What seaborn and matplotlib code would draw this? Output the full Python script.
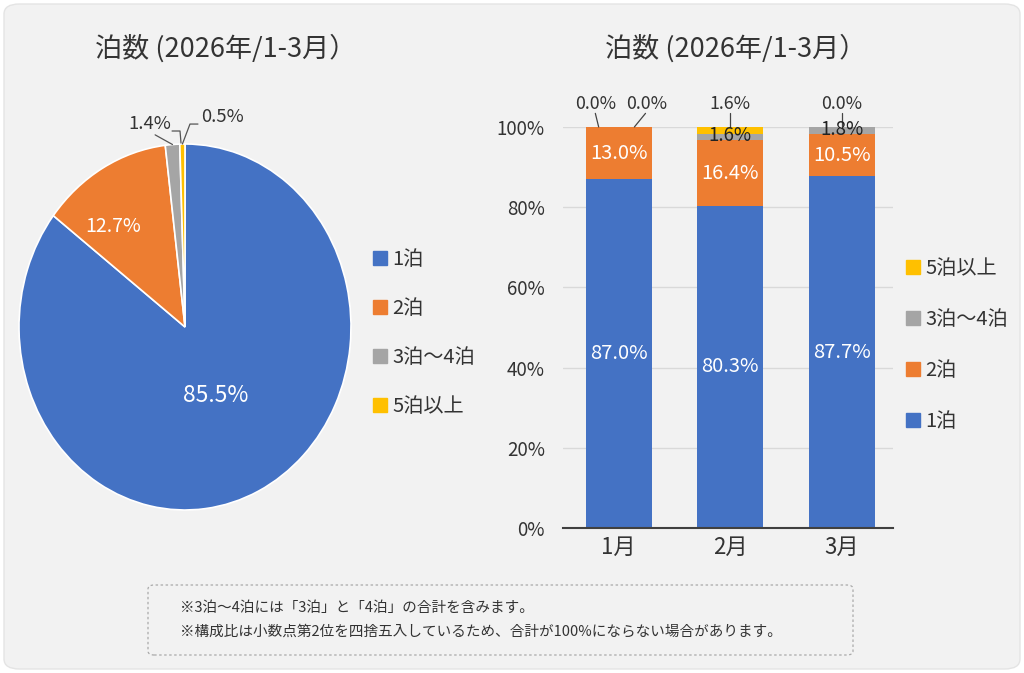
import numpy as np
import pandas as pd
import seaborn as sns
import matplotlib.pyplot as plt
from matplotlib.patches import FancyBboxPatch
from matplotlib.lines import Line2D

sns.set_theme(style="white")
plt.rcParams["font.family"] = ["Noto Sans CJK JP", "DejaVu Sans"]

# -------------------------------
# DATA
# -------------------------------
categories = ["1泊", "2泊", "3泊～4泊", "5泊以上"]
pie_share = [85.5, 12.7, 1.4, 0.5]
months = ["1月", "2月", "3月"]
share_1 = [87.0, 80.3, 87.7]
share_2 = [13.0, 16.4, 10.5]
share_3_4 = [0.0, 1.6, 1.8]
share_5 = [0.0, 1.6, 0.0]
title = "泊数 (2026年/1-3月）"
notes = ["※3泊～4泊には「3泊」と「4泊」の合計を含みます。",
         "※構成比は小数点第2位を四捨五入しているため、合計が100%にならない場合があります。"]

colors = ["#4472C4", "#ED7D31", "#A5A5A5", "#FFC000"]
text_c = "#333333"

W, H = 1024, 673
fig = plt.figure(figsize=(W / 100, H / 100), dpi=100)
fig.patch.set_facecolor("white")
fig.patches.append(FancyBboxPatch((4 / W, 4 / H), 1 - 8 / W, 1 - 8 / H,
                                  boxstyle="round,pad=0,rounding_size=0.015",
                                  transform=fig.transFigure, facecolor="#f2f2f2",
                                  edgecolor="#e4e4e4", lw=1, zorder=-10))

# ======================================================
# PIE (slightly stretched vertically, like the reference)
# ======================================================
ax1 = fig.add_axes([19 / W, 163 / H, 332 / W, 366 / H])
ax1.set_facecolor("none")
wedges, _ = ax1.pie(pie_share, colors=colors, startangle=90, counterclock=False,
                    wedgeprops=dict(edgecolor="white", linewidth=1.2))
ax1.set_xlim(-1, 1)
ax1.set_ylim(-1, 1)
ax1.set_aspect("auto")

def mid_xy(w, r):
    a = np.deg2rad((w.theta1 + w.theta2) / 2)
    return r * np.cos(a), r * np.sin(a)

x, y = mid_xy(wedges[0], 0.42)
ax1.text(x, y, f"{pie_share[0]}%", color="white", fontsize=16.5, ha="center", va="center")
ax1.text(-0.43, 0.55, f"{pie_share[1]}%", color="white", fontsize=14, ha="center", va="center")

# small slices with leader lines
lc = dict(color="#555555", lw=0.9, clip_on=False)
gx, gy = mid_xy(wedges[2], 1.0)
ax1.text(-0.21, 1.11, f"{pie_share[2]}%", color=text_c, fontsize=13.3, ha="center", va="center")
ax1.add_line(Line2D([-0.18, gx], [1.05, gy], **lc))
yx, yy = mid_xy(wedges[3], 1.0)
ax1.text(0.10, 1.145, f"{pie_share[3]}%", color=text_c, fontsize=13.3, ha="left", va="center")
ax1.add_line(Line2D([0.078, 0.03, yx], [1.109, 1.109, yy], **lc))
ax1.add_line(Line2D([-0.078, -0.03, -0.024], [1.071, 1.071, 1.005], **lc))

fig.text(226 / W, 1 - 48 / H, title, fontsize=19.5, color=text_c, ha="center", va="center")

h1 = [Line2D([], [], marker="s", ls="", color=c, markersize=9.5) for c in colors]
fig.legend(h1, categories, loc="center left", bbox_to_anchor=(355 / W, 1 - 333 / H),
           frameon=False, fontsize=14.5, labelspacing=1.39, handlelength=0.7,
           handletextpad=0.25, labelcolor=text_c)

# ======================================================
# STACKED BAR
# ======================================================
ax2 = fig.add_axes([563 / W, 145 / H, 330 / W, 401 / H])
ax2.set_facecolor("none")
df = pd.DataFrame({"month": months, "s1": share_1, "s2": share_2,
                   "s3": share_3_4, "s5": share_5})
df["c1"] = df["s1"]
df["c2"] = df["c1"] + df["s2"]
df["c3"] = df["c2"] + df["s3"]
df["c5"] = df["c3"] + df["s5"]

for col, c in zip(["c5", "c3", "c2", "c1"], colors[::-1]):
    sns.barplot(data=df, x="month", y=col, color=c, width=0.59, ax=ax2,
                saturation=1, edgecolor="none")

ax2.set_ylim(0, 100)
ax2.set_xlim(-0.5, 2.46)
ax2.set_yticks(range(0, 101, 20))
ax2.set_yticklabels([f"{v}%" for v in range(0, 101, 20)], fontsize=13.5, color=text_c)
ax2.tick_params(axis="x", labelsize=16, colors=text_c, pad=6, length=0)
ax2.tick_params(axis="y", length=0, pad=13)
ax2.set_xlabel("")
ax2.set_ylabel("")
ax2.yaxis.grid(True, color="#d9d9d9", lw=1)
ax2.set_axisbelow(True)
for s in ["left", "right", "top"]:
    ax2.spines[s].set_visible(False)
ax2.spines["bottom"].set_color("#404040")
ax2.spines["bottom"].set_linewidth(1.5)

for i in range(len(months)):
    ax2.text(i, df["s1"][i] / 2, f"{share_1[i]:.1f}%", color="white", fontsize=14.5,
             ha="center", va="center")
    ax2.text(i, df["c1"][i] + df["s2"][i] / 2, f"{share_2[i]:.1f}%", color="white",
             fontsize=14.5, ha="center", va="center")

# labels for small segments
lk = dict(color="#444444", lw=0.9, clip_on=False)
# Jan: both zero -> two labels above
ax2.text(-0.21, 105.8, f"{share_3_4[0]:.1f}%", fontsize=12.8, color=text_c, ha="center", va="center")
ax2.text(0.25, 105.8, f"{share_5[0]:.1f}%", fontsize=12.8, color=text_c, ha="center", va="center")
ax2.add_line(Line2D([-0.21, -0.18], [103.4, df["c3"][0]], **lk))
ax2.add_line(Line2D([0.24, 0.14], [103.4, df["c5"][0]], **lk))
# Feb, Mar: gray inside, yellow above
for i in [1, 2]:
    ax2.text(i, df["c2"][i] + df["s3"][i] / 2 + 0.4, f"{share_3_4[i]:.1f}%", fontsize=13.5,
             color="#222222", ha="center", va="center")
    ax2.text(i, 105.8, f"{share_5[i]:.1f}%", fontsize=12.8, color=text_c, ha="center",
             va="center")
    ax2.add_line(Line2D([i, i], [103.4, df["c5"][i]], **lk))

fig.text(736 / W, 1 - 48 / H, title, fontsize=19.5, color=text_c, ha="center", va="center")

h2 = [Line2D([], [], marker="s", ls="", color=c, markersize=9.5) for c in colors[::-1]]
fig.legend(h2, categories[::-1], loc="center left", bbox_to_anchor=(888 / W, 1 - 345 / H),
           frameon=False, fontsize=14.5, labelspacing=1.49, handlelength=0.7,
           handletextpad=0.25, labelcolor=text_c)

# -------------------------------
# NOTE BOX
# -------------------------------
fig.patches.append(FancyBboxPatch((148 / W, 1 - 655 / H), 705 / W, 70 / H,
                                  boxstyle="round,pad=0,rounding_size=0.006",
                                  transform=fig.transFigure, facecolor="none",
                                  edgecolor="#aaaaaa", lw=0.9, ls=(0, (2, 2))))
fig.text(180 / W, 1 - 608 / H, notes[0], fontsize=10.5, color=text_c, va="center")
fig.text(180 / W, 1 - 632 / H, notes[1], fontsize=10.5, color=text_c, va="center")

fig.savefig("out.png", dpi=100, facecolor=fig.get_facecolor())
